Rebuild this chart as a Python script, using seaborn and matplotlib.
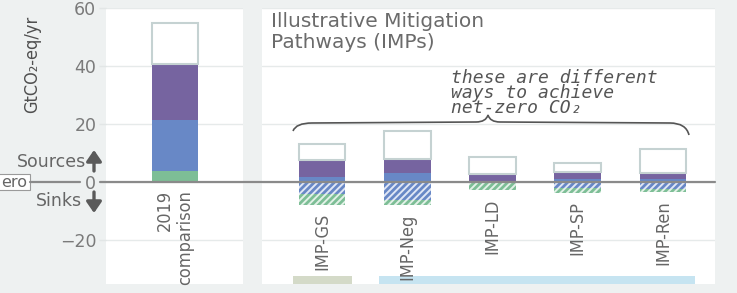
import numpy as np
import pandas as pd
import matplotlib
matplotlib.use("Agg")
import matplotlib.pyplot as plt
import seaborn as sns
from matplotlib import font_manager
from matplotlib.path import Path
from matplotlib.patches import PathPatch, Rectangle, FancyArrowPatch
from matplotlib.lines import Line2D
import matplotlib.transforms as mtrans

# ---------------- data ----------------
categories = ["2019\ncomparison", "IMP-GS", "IMP-Neg", "IMP-LD", "IMP-SP", "IMP-Ren"]
green_src = [3.8, 0.0, 0.0, 0.0, 0.0, 0.0]
blue_src = [17.6, 1.8, 3.0, 0.3, 1.0, 1.0]
purple_src = [19.3, 5.8, 4.8, 2.3, 2.6, 2.0]
white_src = [14.1, 5.5, 9.9, 5.9, 3.1, 8.5]
blue_sink = [0.0, -4.2, -6.2, 0.0, -2.2, -2.5]
green_sink = [0.0, -3.7, -1.7, -2.8, -1.7, -0.8]
y_ticks = [-20, 0, 20, 40, 60]
y_tick_labels = ["\u221220", "0", "20", "40", "60"]

df = pd.DataFrame({
    "cat": categories,
    "green_src": green_src, "blue_src": blue_src,
    "purple_src": purple_src, "white_src": white_src,
    "blue_sink": blue_sink, "green_sink": green_sink,
})

# ---------------- style ----------------
sns.set_theme(style="white")
plt.rcParams["font.family"] = ["DejaVu Sans"]
plt.rcParams["hatch.linewidth"] = 1.4

# look for a condensed / narrow face
cond = [f for f in font_manager.fontManager.ttflist
        if ("Narrow" in f.name or "Condensed" in f.name
            or str(f.stretch) in ("condensed", "semi-condensed", "extra-condensed"))
        and f.style == "normal" and f.weight in (400, "normal", "regular")]
if cond:
    COND = dict(fontfamily=[cond[0].name, "DejaVu Sans"], fontstretch=cond[0].stretch)
    COND_SIZE = 13
    YL_SIZE = 13
else:
    COND = dict(fontfamily=["Liberation Sans", "DejaVu Sans"])
    COND_SIZE = 11
    YL_SIZE = 10.5

BG = "#eef1f1"
GREEN = "#7dbe96"
BLUE = "#6888c6"
PURPLE = "#7664a0"
BOXEDGE = "#c5d2d2"
TXT = "#666666"

W, H = 737, 293
fig = plt.figure(figsize=(W / 100, H / 100), dpi=100, facecolor=BG)

def fx(x):
    return x / W

def fy(y):
    return 1 - y / H

ax1 = fig.add_axes([fx(106), fy(284), 137 / W, 276 / H])
ax2 = fig.add_axes([fx(262), fy(284), 453 / W, 276 / H])

g = np.array(green_src)
b = np.array(blue_src)
p = np.array(purple_src)
bs = np.array(blue_sink)

layers = [
    ("green_src", np.zeros(len(g)), dict(color=GREEN, linewidth=0)),
    ("blue_src", g, dict(color=BLUE, linewidth=0)),
    ("purple_src", g + b, dict(color=PURPLE, linewidth=0)),
    ("white_src", g + b + p, dict(color="white", edgecolor=BOXEDGE, linewidth=1.5)),
    ("blue_sink", np.zeros(len(g)), dict(color=BLUE, edgecolor="#dfe6f5", linewidth=0, hatch="/////")),
    ("green_sink", bs, dict(color=GREEN, edgecolor="#e2f1e7", linewidth=0, hatch="/////")),
]

neg_total = np.array(blue_sink) + np.array(green_sink)

for ax, idx in [(ax1, [0]), (ax2, [1, 2, 3, 4, 5])]:
    sub = df.iloc[idx]
    order = list(sub["cat"])
    for col, bottom, style in layers:
        sns.barplot(data=sub, x="cat", y=col, order=order, bottom=bottom[idx],
                    width=0.55, errorbar=None, saturation=1, ax=ax, **style)
    ax.set_facecolor("white")
    for s in ax.spines.values():
        s.set_visible(False)
    ax.set_ylim(-35.2, 60)
    ax.set_xlabel("")
    ax.set_ylabel("")
    ax.set_xticks([])
    ax.set_yticks(y_ticks)
    ax.yaxis.grid(True, color="#e6eaea", linewidth=1)
    ax.set_axisbelow(True)
    for i, (c, n) in enumerate(zip(order, neg_total[idx])):
        ax.annotate(c, xy=(i, n), xytext=(0, -6), textcoords="offset points",
                    rotation=90, ha="center", va="top", multialignment="right",
                    fontsize=COND_SIZE, color=TXT, **COND)

ax1.set_xlim(-0.81, 0.80)
ax2.set_xlim(-0.704, 4.61)

ax1.set_yticklabels(y_tick_labels)
ax1.tick_params(axis="y", left=True, length=5, width=1, color="#e2e6e6",
                pad=2, labelsize=12.5, labelcolor="#7a7a7a")
ax2.tick_params(axis="y", left=False, labelleft=False)

# bottom coloured strips under the IMP panel
trans = mtrans.blended_transform_factory(ax2.transData, ax2.transAxes)
ax2.add_patch(Rectangle((-0.34, 0), 0.69, 0.029, transform=trans,
                        color="#d4dac8", lw=0, clip_on=False))
ax2.add_patch(Rectangle((0.67, 0), 3.71, 0.029, transform=trans,
                        color="#c6e4f1", lw=0, clip_on=False))

# zero line across the figure
for x0, x1 in [(30, 80), (100, 715)]:
    fig.add_artist(Line2D([fx(x0), fx(x1)], [fy(182.3), fy(182.3)],
                          transform=fig.transFigure, color="#8a8a8a", lw=1.6))

# clipped box at the left edge
fig.add_artist(Rectangle((fx(-6), fy(190)), 36 / W, 16 / H, transform=fig.transFigure,
                         fc="white", ec="#9a9a9a", lw=0.8))
fig.text(fx(27), fy(182.5), "ero", ha="right", va="center", fontsize=11.5, color=TXT)

# Sources / Sinks
fig.text(fx(86), fy(162), "Sources", ha="right", va="center", fontsize=12.5, color=TXT)
fig.text(fx(82), fy(201), "Sinks", ha="right", va="center", fontsize=12.5, color=TXT)
arrow_kw = dict(arrowstyle="-|>,head_width=0.38,head_length=0.55", lw=2.4,
                color="#5a5a5a", shrinkA=0, shrinkB=0)
fig.add_artist(FancyArrowPatch((fx(94), fy(171)), (fx(94), fy(150)),
                               transform=fig.transFigure, mutation_scale=12, **arrow_kw))
fig.add_artist(FancyArrowPatch((fx(94), fy(192)), (fx(94), fy(213)),
                               transform=fig.transFigure, mutation_scale=12, **arrow_kw))

# y label
fig.text(fx(32), fy(64), "GtCO\u2082-eq/yr", rotation=90, ha="center", va="center",
         fontsize=YL_SIZE, color="#505050", **COND)

# title of IMP panel
fig.text(fx(271), fy(12), "Illustrative Mitigation\nPathways (IMPs)", ha="left",
         va="top", fontsize=14.5, color="#6b6b6b", linespacing=1.1)

# annotation
fig.text(fx(451), fy(69), "these are different\nways to achieve\nnet-zero CO\u2082",
         ha="left", va="top", fontsize=13, style="italic",
         fontfamily=["DejaVu Sans Mono", "DejaVu Sans"], color="#555555",
         linespacing=0.78)

# curly brace
pts = [(293, 131), (296, 123), (312, 123), (476, 122), (486, 122), (488, 115),
       (490, 122), (500, 122), (670, 123), (686, 123), (689, 135)]
codes = [Path.MOVETO, Path.CURVE3, Path.CURVE3, Path.LINETO, Path.CURVE3, Path.CURVE3,
         Path.CURVE3, Path.CURVE3, Path.LINETO, Path.CURVE3, Path.CURVE3]
verts = [(fx(x), fy(y)) for x, y in pts]
fig.add_artist(PathPatch(Path(verts, codes), transform=fig.transFigure,
                         fc="none", ec="#555555", lw=1.2))

fig.savefig("out.png", dpi=100, facecolor=BG)
